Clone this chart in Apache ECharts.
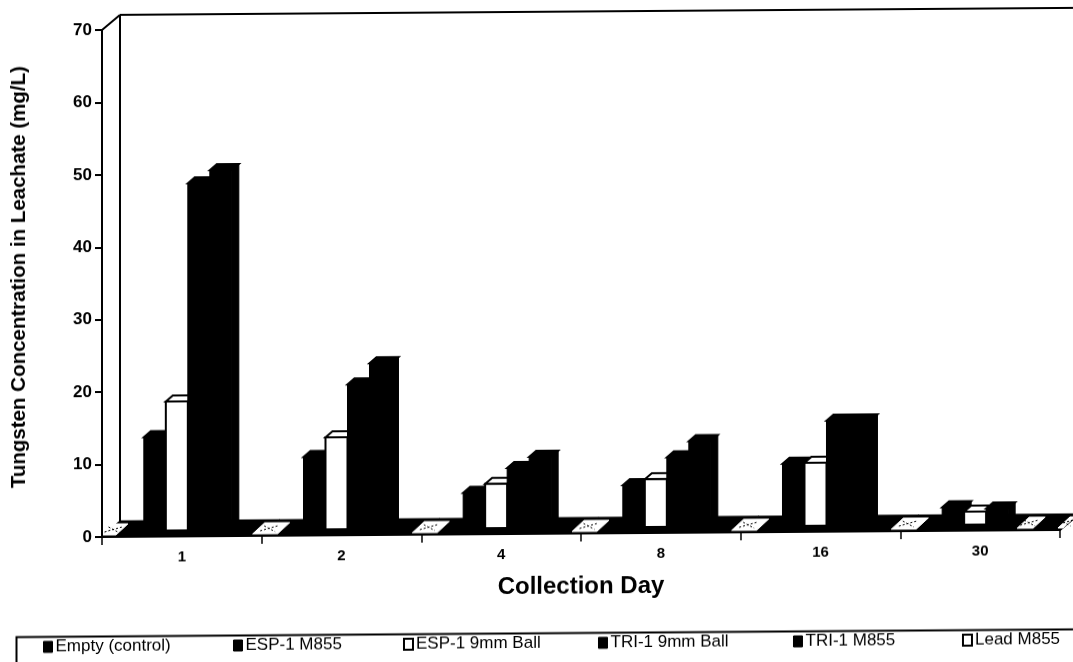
<!DOCTYPE html>
<html>
<head>
<meta charset="utf-8">
<style>
html,body{margin:0;padding:0;background:#fff;overflow:hidden}
#c{width:1073px;height:662px;transform:skewY(-0.42deg);transform-origin:102px 537px}
</style>
<script src="https://cdn.jsdelivr.net/npm/echarts@6/dist/echarts.min.js"></script>
</head>
<body>
<div id="c"></div>
<script>
var days = ['1','2','4','8','16','30'];
var emptyControl = [0,0,0,0,0,0];
var esp1M855 = [12.9,10,4.9,5.8,8.6,2.4];
var esp19mm = [17.8,12.7,6.1,6.6,8.7,1.8];
var tri19mm = [47.9,20,8.3,9.6,14.5,2.2];
var tri1M855 = [49.7,22.9,9.8,11.8,14.5,0];
var leadM855 = [0,0,0,0,0,0];
var seriesNames = ['Empty (control)','ESP-1 M855','ESP-1 9mm Ball','TRI-1 9mm Ball','TRI-1 M855','Lead M855'];
var seriesValues = [emptyControl,esp1M855,esp19mm,tri19mm,tri1M855,leadM855];
var frontFill = ['#000','#000','#fff','#000','#000','#000'];
var legendFill = ['#000','#000','#fff','#000','#000','#fff'];
var legendLeft = [43,233,403,598,793,962];

var FONT = '"Liberation Sans", Arial, sans-serif';
var FRONT_DX = 6, FRONT_DY = -6, TOP_DX = 7, TOP_DY = -6, FLOOR_DX = 18, FLOOR_DY = -15, SLOT = 22;

function poly(points, fill, stroke, lw){
  return {type:'polygon', shape:{points:points}, style:{fill:fill, stroke:stroke||fill, lineWidth:lw||1}};
}
function barRenderer(slot){
  return function(params, api){
    var cat = api.value(0), v = api.value(1);
    var base = api.coord([cat,0]), top = api.coord([cat,v]);
    var x0 = base[0] + FRONT_DX + (slot-3)*SLOT, x1 = x0 + SLOT;
    var yb = base[1] + FRONT_DY, yt = top[1] + FRONT_DY;
    var fill = frontFill[slot];
    var kids = [
      poly([[x1,yt],[x1+TOP_DX,yt+TOP_DY],[x1+TOP_DX,yb+TOP_DY],[x1,yb]],'#000','#000',1),
      poly([[x0,yt],[x0+TOP_DX,yt+TOP_DY],[x1+TOP_DX,yt+TOP_DY],[x1,yt]],fill,'#000',2),
      {type:'rect', shape:{x:x0,y:yt,width:SLOT,height:yb-yt}, style:{fill:fill,stroke:'#000',lineWidth:fill==='#fff'?2:1}}
    ];
    return {type:'group', children:kids};
  };
}
function strip(x0,x1,y,fill){
  return poly([[x0,y],[x1,y],[x1+FLOOR_DX,y+FLOOR_DY],[x0+FLOOR_DX,y+FLOOR_DY]],fill,fill,1);
}
function patch(x0,x1,y){
  var out = [poly([[x0,y-2],[x1,y-2],[x1+12,y-13],[x0+12,y-13]],'#fff','#fff',1)];
  var mid=(x0+x1)/2;
  out.push({type:'line',shape:{x1:mid-5,y1:y-5,x2:mid+13,y2:y-10},style:{stroke:'#000',lineWidth:1,lineDash:[2,2]}});
  out.push({type:'line',shape:{x1:mid-1,y1:y-10,x2:mid+10,y2:y-4},style:{stroke:'#000',lineWidth:1,lineDash:[2,2]}});
  return out;
}
function floorRenderer(params, api){
  var cat = api.value(0);
  var c = api.coord([cat,0]), w = api.size([1,0])[0];
  return strip(c[0]-w/2,c[0]+w/2,c[1]-1,'#000');
}
function patchRenderer(params, api){
  var cat = api.value(0);
  var c = api.coord([cat,0]), w = api.size([1,0])[0];
  var left = c[0]-w/2, right = c[0]+w/2, y = c[1], kids = [];
  if(cat===0){ kids = kids.concat(patch(left+1,left+14,y)); }
  if(cat<days.length-1){ kids = kids.concat(patch(right-9,right+16,y)); }
  else { kids = kids.concat(patch(c[0]+37,c[0]+53,y)); kids = kids.concat(patch(right-2,right+3,y)); }
  return {type:'group', children:kids};
}
function wallRenderer(params, api){
  var a = api.coord([0,0]), t = api.coord([0,70]), w = api.size([1,0])[0];
  var e = api.coord([days.length-1,0]);
  var L = a[0]-w/2, R = e[0]+w/2+FLOOR_DX;
  var s = {stroke:'#000',lineWidth:2,fill:null};
  function ln(x1,y1,x2,y2){return {type:'line',shape:{x1:x1,y1:y1,x2:x2,y2:y2},style:s};}
  return {type:'group',children:[
    ln(L,t[1],L+FLOOR_DX,t[1]+FLOOR_DY),
    ln(L+FLOOR_DX,t[1]+FLOOR_DY,R+10,t[1]+FLOOR_DY),
    ln(L+FLOOR_DX,t[1]+FLOOR_DY,L+FLOOR_DX,a[1]+FLOOR_DY),
    ln(L,a[1],L+FLOOR_DX,a[1]+FLOOR_DY),
    ln(R-FLOOR_DX,a[1],R,a[1]+FLOOR_DY)
  ]};
}

var catRows = days.map(function(d,i){return [i,0];});
var series = [
  {type:'custom', silent:true, z:2, clip:false, renderItem:wallRenderer, data:[[0,0]], encode:{x:0,y:1}},
  {type:'custom', silent:true, z:2, clip:false, renderItem:floorRenderer, data:catRows, encode:{x:0,y:1}},
  {type:'custom', silent:true, z:20, clip:false, renderItem:patchRenderer, data:catRows, encode:{x:0,y:1}}
];
seriesNames.forEach(function(n,s){
  series.push({type:'custom', name:n, z:3+s, clip:false, renderItem:barRenderer(s),
    itemStyle:{color:legendFill[s]},
    data:seriesValues[s].map(function(v,i){return [i,v];}), encode:{x:0,y:1}});
});

var legends = seriesNames.map(function(n,s){
  return {left:legendLeft[s], top:638, orient:'horizontal', selectedMode:false, itemWidth:9, itemHeight:11, padding:0,
    textStyle:{color:'#000',fontFamily:FONT,fontSize:17,padding:[0,0,0,-2]},
    data:[{name:n, icon:'rect', itemStyle:{color:legendFill[s],borderColor:'#000',borderWidth:legendFill[s]==='#fff'?2:1}}]};
});

var chart = echarts.init(document.getElementById('c'),null,{renderer:'canvas'});
chart.setOption({
  animation:false,
  backgroundColor:'#fff',
  legend:legends,
  grid:{left:102,right:13,top:30,bottom:125,containLabel:false,outerBoundsMode:'none'},
  graphic:[{type:'rect',left:14,top:634,shape:{width:1075,height:27},style:{fill:'none',stroke:'#000',lineWidth:2},z:0,silent:true}],
  xAxis:{type:'category',data:days,
    name:'Collection Day',nameLocation:'middle',nameGap:41,
    nameTextStyle:{color:'#000',fontFamily:FONT,fontWeight:'bold',fontSize:24},
    axisLine:{lineStyle:{color:'#000',width:2}},
    axisTick:{show:true,length:8,alignWithLabel:false,lineStyle:{color:'#000',width:1.5}},
    axisLabel:{color:'#000',fontFamily:FONT,fontWeight:'bold',fontSize:15,margin:13},
    splitLine:{show:false}},
  yAxis:{type:'value',min:0,max:70,interval:10,
    name:'Tungsten Concentration in Leachate (mg/L)',nameLocation:'middle',nameGap:72,
    nameTextStyle:{color:'#000',fontFamily:FONT,fontWeight:'bold',fontSize:20.5,padding:[0,0,0,14]},
    axisLine:{show:true,lineStyle:{color:'#000',width:2}},
    axisTick:{show:true,length:7,lineStyle:{color:'#000',width:2}},
    axisLabel:{color:'#000',fontFamily:FONT,fontWeight:'bold',fontSize:17,margin:10,padding:[0,0,7,0]},
    splitLine:{show:false}},
  series:series
});
</script>
</body>
</html>
